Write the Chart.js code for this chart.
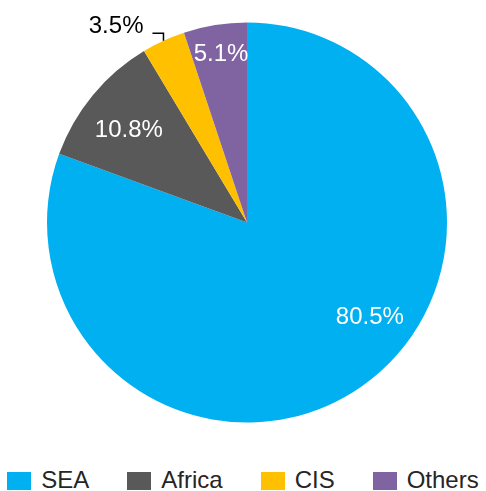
<!DOCTYPE html>
<html>
<head>
<meta charset="utf-8">
<script src="https://cdn.jsdelivr.net/npm/chart.js@4"></script>
<style>
  html, body { margin: 0; padding: 0; background: #fff; }
  #wrap { position: relative; width: 486px; height: 491px; overflow: hidden; }
  #box { position: absolute; left: 0; top: 0; width: 486px; height: 455px; }
  #legend { position: absolute; left: 0; top: 468px; width: 486px; display: flex; justify-content: center; gap: 38px;
            font-family: "Liberation Sans", Arial, sans-serif; font-size: 24px; line-height: 24px; color: #262626; }
  .item { display: flex; align-items: flex-start; white-space: nowrap; }
  .sw { width: 24px; height: 18px; margin-top: 4px; margin-right: 10px; }
</style>
</head>
<body>
<div id="wrap">
  <div id="box"><canvas id="c"></canvas></div>
  <div id="legend"></div>
</div>
<script>
const categories = ["SEA", "Africa", "CIS", "Others"];
const shares = [80.5, 10.8, 3.5, 5.1];
const colors = ["#00B0F0", "#595959", "#FFC000", "#8064A2"];

// label placement (relative to each arc): radius fraction, angle shift in degrees, or outside with leader
const labelPlacement = [
  { r: 0.775, shift: -17.5 },
  { r: 0.75, shift: -1.5 },
  { outside: true },
  { r: 0.85, shift: 0.4 }
];

const pieLabels = {
  id: 'pieLabels',
  afterDatasetsDraw(chart) {
    const ctx = chart.ctx;
    const meta = chart.getDatasetMeta(0);
    ctx.save();
    ctx.font = '24px "Liberation Sans", Arial, sans-serif';
    meta.data.forEach((arc, i) => {
      const p = arc.getProps(['x', 'y', 'startAngle', 'endAngle', 'outerRadius'], true);
      const mid = (p.startAngle + p.endAngle) / 2;
      const txt = shares[i].toFixed(1) + '%';
      const pl = labelPlacement[i];
      if (pl.outside) {
        const ex = p.x + p.outerRadius * Math.cos(mid);
        const ey = p.y + p.outerRadius * Math.sin(mid);
        const qy = ey - 7.5;
        const rx = ex - 11;
        ctx.strokeStyle = '#000';
        ctx.lineWidth = 1.5;
        ctx.beginPath();
        ctx.moveTo(ex, ey);
        ctx.lineTo(ex, qy);
        ctx.lineTo(rx, qy);
        ctx.stroke();
        ctx.fillStyle = '#000';
        ctx.textAlign = 'right';
        ctx.textBaseline = 'alphabetic';
        ctx.fillText(txt, rx - 9, qy);
      } else {
        const a = mid + pl.shift * Math.PI / 180;
        const lx = p.x + p.outerRadius * pl.r * Math.cos(a);
        const ly = p.y + p.outerRadius * pl.r * Math.sin(a);
        ctx.fillStyle = '#fff';
        ctx.textAlign = 'center';
        ctx.textBaseline = 'middle';
        ctx.fillText(txt, lx, ly);
      }
    });
    ctx.restore();
  }
};

new Chart(document.getElementById('c'), {
  type: 'pie',
  data: {
    labels: categories,
    datasets: [{ data: shares, backgroundColor: colors, borderWidth: 0 }]
  },
  options: {
    responsive: true,
    maintainAspectRatio: false,
    animation: false,
    layout: { padding: { left: 47, right: 39, top: 22.5, bottom: 32.5 } },
    plugins: { legend: { display: false }, tooltip: { enabled: false } }
  },
  plugins: [pieLabels]
});

const lg = document.getElementById('legend');
categories.forEach((c, i) => {
  const it = document.createElement('div');
  it.className = 'item';
  const sw = document.createElement('span');
  sw.className = 'sw';
  sw.style.background = colors[i];
  const t = document.createElement('span');
  t.textContent = c;
  it.appendChild(sw);
  it.appendChild(t);
  lg.appendChild(it);
});
</script>
</body>
</html>
